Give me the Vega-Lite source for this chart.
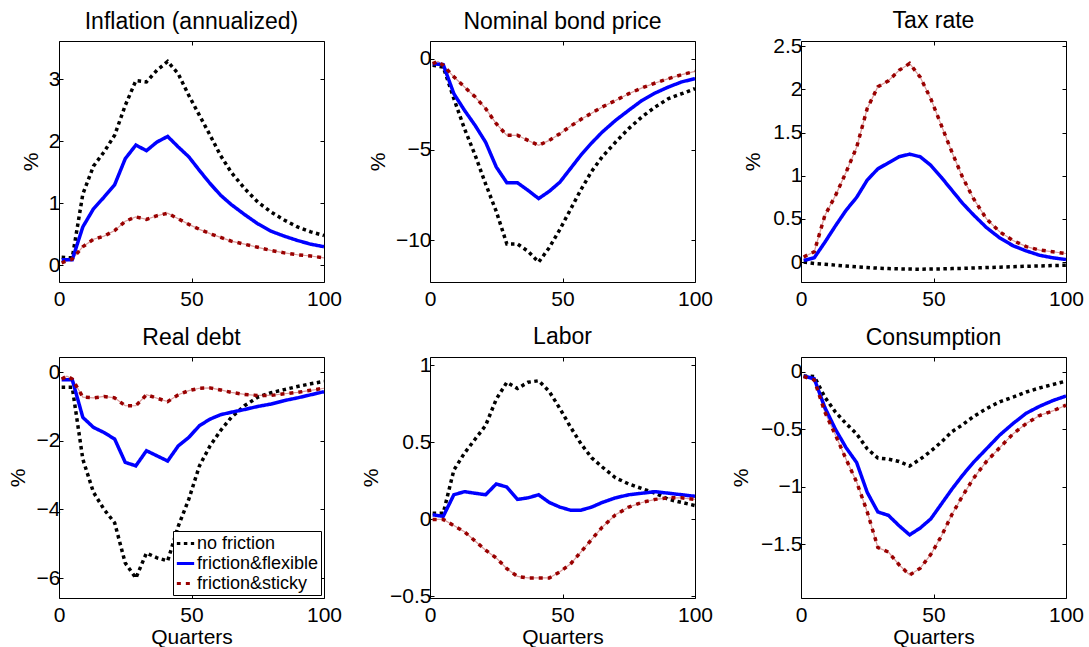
{
"$schema": "https://vega.github.io/schema/vega-lite/v6.json",
"padding": {"left": 6, "top": 9, "right": 0, "bottom": 0},
"bounds": "flush",
"columns": 3,
"spacing": {"row": 75, "column": 106},
"datasets": {"d": [
{"p":"inf","s":"nf","x":1,"y":0.13},{"p":"inf","s":"nf","x":5,"y":0.12},{"p":"inf","s":"nf","x":9,"y":1.15},{"p":"inf","s":"nf","x":13,"y":1.6},{"p":"inf","s":"nf","x":17,"y":1.83},{"p":"inf","s":"nf","x":21,"y":2.1},{"p":"inf","s":"nf","x":25,"y":2.58},{"p":"inf","s":"nf","x":29,"y":2.98},{"p":"inf","s":"nf","x":33,"y":2.96},{"p":"inf","s":"nf","x":37,"y":3.15},{"p":"inf","s":"nf","x":41,"y":3.29},{"p":"inf","s":"nf","x":45,"y":3.09},{"p":"inf","s":"nf","x":49,"y":2.74},{"p":"inf","s":"nf","x":53,"y":2.42},{"p":"inf","s":"nf","x":57,"y":2.1},{"p":"inf","s":"nf","x":61,"y":1.77},{"p":"inf","s":"nf","x":65,"y":1.5},{"p":"inf","s":"nf","x":70,"y":1.24},{"p":"inf","s":"nf","x":75,"y":1.02},{"p":"inf","s":"nf","x":80,"y":0.86},{"p":"inf","s":"nf","x":85,"y":0.73},{"p":"inf","s":"nf","x":90,"y":0.62},{"p":"inf","s":"nf","x":95,"y":0.54},{"p":"inf","s":"nf","x":100,"y":0.48},
{"p":"inf","s":"ff","x":1,"y":0.09},{"p":"inf","s":"ff","x":5,"y":0.09},{"p":"inf","s":"ff","x":9,"y":0.62},{"p":"inf","s":"ff","x":13,"y":0.91},{"p":"inf","s":"ff","x":17,"y":1.1},{"p":"inf","s":"ff","x":21,"y":1.3},{"p":"inf","s":"ff","x":25,"y":1.72},{"p":"inf","s":"ff","x":29,"y":1.94},{"p":"inf","s":"ff","x":33,"y":1.85},{"p":"inf","s":"ff","x":37,"y":1.99},{"p":"inf","s":"ff","x":41,"y":2.08},{"p":"inf","s":"ff","x":45,"y":1.91},{"p":"inf","s":"ff","x":49,"y":1.75},{"p":"inf","s":"ff","x":53,"y":1.53},{"p":"inf","s":"ff","x":57,"y":1.32},{"p":"inf","s":"ff","x":61,"y":1.13},{"p":"inf","s":"ff","x":65,"y":0.98},{"p":"inf","s":"ff","x":70,"y":0.82},{"p":"inf","s":"ff","x":75,"y":0.67},{"p":"inf","s":"ff","x":80,"y":0.55},{"p":"inf","s":"ff","x":85,"y":0.47},{"p":"inf","s":"ff","x":90,"y":0.4},{"p":"inf","s":"ff","x":95,"y":0.34},{"p":"inf","s":"ff","x":100,"y":0.3},
{"p":"inf","s":"fs","x":1,"y":0.04},{"p":"inf","s":"fs","x":5,"y":0.1},{"p":"inf","s":"fs","x":9,"y":0.3},{"p":"inf","s":"fs","x":13,"y":0.42},{"p":"inf","s":"fs","x":17,"y":0.47},{"p":"inf","s":"fs","x":21,"y":0.56},{"p":"inf","s":"fs","x":25,"y":0.71},{"p":"inf","s":"fs","x":29,"y":0.78},{"p":"inf","s":"fs","x":33,"y":0.74},{"p":"inf","s":"fs","x":37,"y":0.8},{"p":"inf","s":"fs","x":41,"y":0.84},{"p":"inf","s":"fs","x":45,"y":0.75},{"p":"inf","s":"fs","x":49,"y":0.66},{"p":"inf","s":"fs","x":53,"y":0.58},{"p":"inf","s":"fs","x":57,"y":0.51},{"p":"inf","s":"fs","x":61,"y":0.45},{"p":"inf","s":"fs","x":65,"y":0.39},{"p":"inf","s":"fs","x":70,"y":0.34},{"p":"inf","s":"fs","x":75,"y":0.29},{"p":"inf","s":"fs","x":80,"y":0.24},{"p":"inf","s":"fs","x":85,"y":0.2},{"p":"inf","s":"fs","x":90,"y":0.17},{"p":"inf","s":"fs","x":95,"y":0.15},{"p":"inf","s":"fs","x":100,"y":0.12},
{"p":"bond","s":"nf","x":1,"y":-0.37},{"p":"bond","s":"nf","x":5,"y":-0.46},{"p":"bond","s":"nf","x":9,"y":-2.2},{"p":"bond","s":"nf","x":13,"y":-3.85},{"p":"bond","s":"nf","x":17,"y":-5.3},{"p":"bond","s":"nf","x":21,"y":-6.9},{"p":"bond","s":"nf","x":25,"y":-8.4},{"p":"bond","s":"nf","x":29,"y":-10.2},{"p":"bond","s":"nf","x":33,"y":-10.2},{"p":"bond","s":"nf","x":37,"y":-10.6},{"p":"bond","s":"nf","x":41,"y":-11.2},{"p":"bond","s":"nf","x":45,"y":-10.4},{"p":"bond","s":"nf","x":49,"y":-9.4},{"p":"bond","s":"nf","x":53,"y":-8.3},{"p":"bond","s":"nf","x":57,"y":-7.2},{"p":"bond","s":"nf","x":61,"y":-6.2},{"p":"bond","s":"nf","x":65,"y":-5.4},{"p":"bond","s":"nf","x":70,"y":-4.6},{"p":"bond","s":"nf","x":75,"y":-3.85},{"p":"bond","s":"nf","x":80,"y":-3.2},{"p":"bond","s":"nf","x":85,"y":-2.66},{"p":"bond","s":"nf","x":90,"y":-2.2},{"p":"bond","s":"nf","x":95,"y":-1.93},{"p":"bond","s":"nf","x":100,"y":-1.65},
{"p":"bond","s":"ff","x":1,"y":-0.28},{"p":"bond","s":"ff","x":5,"y":-0.33},{"p":"bond","s":"ff","x":9,"y":-1.93},{"p":"bond","s":"ff","x":13,"y":-2.84},{"p":"bond","s":"ff","x":17,"y":-3.67},{"p":"bond","s":"ff","x":21,"y":-4.6},{"p":"bond","s":"ff","x":25,"y":-5.96},{"p":"bond","s":"ff","x":29,"y":-6.83},{"p":"bond","s":"ff","x":33,"y":-6.83},{"p":"bond","s":"ff","x":37,"y":-7.25},{"p":"bond","s":"ff","x":41,"y":-7.7},{"p":"bond","s":"ff","x":45,"y":-7.3},{"p":"bond","s":"ff","x":49,"y":-6.8},{"p":"bond","s":"ff","x":53,"y":-6.05},{"p":"bond","s":"ff","x":57,"y":-5.3},{"p":"bond","s":"ff","x":61,"y":-4.64},{"p":"bond","s":"ff","x":65,"y":-4.04},{"p":"bond","s":"ff","x":70,"y":-3.4},{"p":"bond","s":"ff","x":75,"y":-2.84},{"p":"bond","s":"ff","x":80,"y":-2.3},{"p":"bond","s":"ff","x":85,"y":-1.89},{"p":"bond","s":"ff","x":90,"y":-1.56},{"p":"bond","s":"ff","x":95,"y":-1.28},{"p":"bond","s":"ff","x":100,"y":-1.1},
{"p":"bond","s":"fs","x":1,"y":-0.28},{"p":"bond","s":"fs","x":3,"y":-0.15},{"p":"bond","s":"fs","x":5,"y":-0.37},{"p":"bond","s":"fs","x":9,"y":-1.0},{"p":"bond","s":"fs","x":13,"y":-1.56},{"p":"bond","s":"fs","x":17,"y":-2.1},{"p":"bond","s":"fs","x":21,"y":-2.75},{"p":"bond","s":"fs","x":25,"y":-3.58},{"p":"bond","s":"fs","x":29,"y":-4.22},{"p":"bond","s":"fs","x":33,"y":-4.22},{"p":"bond","s":"fs","x":37,"y":-4.5},{"p":"bond","s":"fs","x":41,"y":-4.77},{"p":"bond","s":"fs","x":45,"y":-4.5},{"p":"bond","s":"fs","x":49,"y":-4.13},{"p":"bond","s":"fs","x":53,"y":-3.72},{"p":"bond","s":"fs","x":57,"y":-3.34},{"p":"bond","s":"fs","x":61,"y":-3.0},{"p":"bond","s":"fs","x":65,"y":-2.66},{"p":"bond","s":"fs","x":70,"y":-2.3},{"p":"bond","s":"fs","x":75,"y":-1.93},{"p":"bond","s":"fs","x":80,"y":-1.61},{"p":"bond","s":"fs","x":85,"y":-1.34},{"p":"bond","s":"fs","x":90,"y":-1.1},{"p":"bond","s":"fs","x":95,"y":-0.88},{"p":"bond","s":"fs","x":100,"y":-0.7},
{"p":"tax","s":"nf","x":1,"y":0},{"p":"tax","s":"nf","x":5,"y":-0.015},{"p":"tax","s":"nf","x":9,"y":-0.025},{"p":"tax","s":"nf","x":13,"y":-0.035},{"p":"tax","s":"nf","x":17,"y":-0.045},{"p":"tax","s":"nf","x":21,"y":-0.055},{"p":"tax","s":"nf","x":25,"y":-0.062},{"p":"tax","s":"nf","x":29,"y":-0.07},{"p":"tax","s":"nf","x":33,"y":-0.075},{"p":"tax","s":"nf","x":37,"y":-0.078},{"p":"tax","s":"nf","x":41,"y":-0.08},{"p":"tax","s":"nf","x":45,"y":-0.082},{"p":"tax","s":"nf","x":49,"y":-0.08},{"p":"tax","s":"nf","x":53,"y":-0.078},{"p":"tax","s":"nf","x":57,"y":-0.075},{"p":"tax","s":"nf","x":61,"y":-0.072},{"p":"tax","s":"nf","x":65,"y":-0.068},{"p":"tax","s":"nf","x":70,"y":-0.063},{"p":"tax","s":"nf","x":75,"y":-0.058},{"p":"tax","s":"nf","x":80,"y":-0.053},{"p":"tax","s":"nf","x":85,"y":-0.048},{"p":"tax","s":"nf","x":90,"y":-0.044},{"p":"tax","s":"nf","x":95,"y":-0.04},{"p":"tax","s":"nf","x":100,"y":-0.036},
{"p":"tax","s":"ff","x":1,"y":0.02},{"p":"tax","s":"ff","x":5,"y":0.05},{"p":"tax","s":"ff","x":9,"y":0.23},{"p":"tax","s":"ff","x":13,"y":0.42},{"p":"tax","s":"ff","x":17,"y":0.6},{"p":"tax","s":"ff","x":21,"y":0.75},{"p":"tax","s":"ff","x":25,"y":0.95},{"p":"tax","s":"ff","x":29,"y":1.08},{"p":"tax","s":"ff","x":33,"y":1.15},{"p":"tax","s":"ff","x":37,"y":1.22},{"p":"tax","s":"ff","x":41,"y":1.25},{"p":"tax","s":"ff","x":45,"y":1.22},{"p":"tax","s":"ff","x":49,"y":1.12},{"p":"tax","s":"ff","x":53,"y":0.98},{"p":"tax","s":"ff","x":57,"y":0.83},{"p":"tax","s":"ff","x":61,"y":0.68},{"p":"tax","s":"ff","x":65,"y":0.55},{"p":"tax","s":"ff","x":70,"y":0.4},{"p":"tax","s":"ff","x":75,"y":0.28},{"p":"tax","s":"ff","x":80,"y":0.19},{"p":"tax","s":"ff","x":85,"y":0.13},{"p":"tax","s":"ff","x":90,"y":0.08},{"p":"tax","s":"ff","x":95,"y":0.05},{"p":"tax","s":"ff","x":100,"y":0.03},
{"p":"tax","s":"fs","x":1,"y":0.06},{"p":"tax","s":"fs","x":5,"y":0.12},{"p":"tax","s":"fs","x":9,"y":0.54},{"p":"tax","s":"fs","x":13,"y":0.77},{"p":"tax","s":"fs","x":17,"y":1.04},{"p":"tax","s":"fs","x":21,"y":1.33},{"p":"tax","s":"fs","x":25,"y":1.78},{"p":"tax","s":"fs","x":29,"y":2.03},{"p":"tax","s":"fs","x":33,"y":2.1},{"p":"tax","s":"fs","x":37,"y":2.22},{"p":"tax","s":"fs","x":41,"y":2.3},{"p":"tax","s":"fs","x":45,"y":2.14},{"p":"tax","s":"fs","x":49,"y":1.89},{"p":"tax","s":"fs","x":53,"y":1.58},{"p":"tax","s":"fs","x":57,"y":1.27},{"p":"tax","s":"fs","x":61,"y":0.98},{"p":"tax","s":"fs","x":65,"y":0.74},{"p":"tax","s":"fs","x":70,"y":0.5},{"p":"tax","s":"fs","x":75,"y":0.35},{"p":"tax","s":"fs","x":80,"y":0.25},{"p":"tax","s":"fs","x":85,"y":0.18},{"p":"tax","s":"fs","x":90,"y":0.14},{"p":"tax","s":"fs","x":95,"y":0.12},{"p":"tax","s":"fs","x":100,"y":0.1},
{"p":"debt","s":"nf","x":1,"y":-0.44},{"p":"debt","s":"nf","x":5,"y":-0.44},{"p":"debt","s":"nf","x":9,"y":-2.54},{"p":"debt","s":"nf","x":13,"y":-3.5},{"p":"debt","s":"nf","x":17,"y":-4.0},{"p":"debt","s":"nf","x":21,"y":-4.39},{"p":"debt","s":"nf","x":25,"y":-5.56},{"p":"debt","s":"nf","x":29,"y":-6.0},{"p":"debt","s":"nf","x":33,"y":-5.27},{"p":"debt","s":"nf","x":37,"y":-5.41},{"p":"debt","s":"nf","x":41,"y":-5.5},{"p":"debt","s":"nf","x":45,"y":-4.49},{"p":"debt","s":"nf","x":49,"y":-3.7},{"p":"debt","s":"nf","x":53,"y":-2.73},{"p":"debt","s":"nf","x":57,"y":-2.15},{"p":"debt","s":"nf","x":61,"y":-1.7},{"p":"debt","s":"nf","x":65,"y":-1.32},{"p":"debt","s":"nf","x":70,"y":-0.98},{"p":"debt","s":"nf","x":75,"y":-0.73},{"p":"debt","s":"nf","x":80,"y":-0.6},{"p":"debt","s":"nf","x":85,"y":-0.51},{"p":"debt","s":"nf","x":90,"y":-0.42},{"p":"debt","s":"nf","x":95,"y":-0.34},{"p":"debt","s":"nf","x":100,"y":-0.27},
{"p":"debt","s":"ff","x":1,"y":-0.22},{"p":"debt","s":"ff","x":5,"y":-0.22},{"p":"debt","s":"ff","x":9,"y":-1.32},{"p":"debt","s":"ff","x":13,"y":-1.61},{"p":"debt","s":"ff","x":17,"y":-1.76},{"p":"debt","s":"ff","x":21,"y":-1.95},{"p":"debt","s":"ff","x":25,"y":-2.63},{"p":"debt","s":"ff","x":29,"y":-2.73},{"p":"debt","s":"ff","x":33,"y":-2.29},{"p":"debt","s":"ff","x":37,"y":-2.44},{"p":"debt","s":"ff","x":41,"y":-2.59},{"p":"debt","s":"ff","x":45,"y":-2.15},{"p":"debt","s":"ff","x":49,"y":-1.9},{"p":"debt","s":"ff","x":53,"y":-1.56},{"p":"debt","s":"ff","x":57,"y":-1.37},{"p":"debt","s":"ff","x":61,"y":-1.24},{"p":"debt","s":"ff","x":65,"y":-1.17},{"p":"debt","s":"ff","x":70,"y":-1.09},{"p":"debt","s":"ff","x":75,"y":-1.0},{"p":"debt","s":"ff","x":80,"y":-0.93},{"p":"debt","s":"ff","x":85,"y":-0.83},{"p":"debt","s":"ff","x":90,"y":-0.75},{"p":"debt","s":"ff","x":95,"y":-0.66},{"p":"debt","s":"ff","x":100,"y":-0.57},
{"p":"debt","s":"fs","x":1,"y":-0.2},{"p":"debt","s":"fs","x":3,"y":-0.12},{"p":"debt","s":"fs","x":5,"y":-0.2},{"p":"debt","s":"fs","x":9,"y":-0.73},{"p":"debt","s":"fs","x":13,"y":-0.75},{"p":"debt","s":"fs","x":17,"y":-0.71},{"p":"debt","s":"fs","x":21,"y":-0.75},{"p":"debt","s":"fs","x":25,"y":-0.98},{"p":"debt","s":"fs","x":29,"y":-0.98},{"p":"debt","s":"fs","x":33,"y":-0.66},{"p":"debt","s":"fs","x":37,"y":-0.76},{"p":"debt","s":"fs","x":41,"y":-0.86},{"p":"debt","s":"fs","x":45,"y":-0.66},{"p":"debt","s":"fs","x":49,"y":-0.54},{"p":"debt","s":"fs","x":53,"y":-0.47},{"p":"debt","s":"fs","x":57,"y":-0.46},{"p":"debt","s":"fs","x":61,"y":-0.52},{"p":"debt","s":"fs","x":65,"y":-0.59},{"p":"debt","s":"fs","x":70,"y":-0.65},{"p":"debt","s":"fs","x":75,"y":-0.68},{"p":"debt","s":"fs","x":80,"y":-0.68},{"p":"debt","s":"fs","x":85,"y":-0.63},{"p":"debt","s":"fs","x":90,"y":-0.59},{"p":"debt","s":"fs","x":95,"y":-0.53},{"p":"debt","s":"fs","x":100,"y":-0.47},
{"p":"lab","s":"nf","x":1,"y":0.04},{"p":"lab","s":"nf","x":5,"y":0.04},{"p":"lab","s":"nf","x":9,"y":0.32},{"p":"lab","s":"nf","x":13,"y":0.43},{"p":"lab","s":"nf","x":17,"y":0.52},{"p":"lab","s":"nf","x":21,"y":0.61},{"p":"lab","s":"nf","x":25,"y":0.78},{"p":"lab","s":"nf","x":29,"y":0.89},{"p":"lab","s":"nf","x":33,"y":0.85},{"p":"lab","s":"nf","x":37,"y":0.89},{"p":"lab","s":"nf","x":41,"y":0.9},{"p":"lab","s":"nf","x":45,"y":0.83},{"p":"lab","s":"nf","x":49,"y":0.72},{"p":"lab","s":"nf","x":53,"y":0.6},{"p":"lab","s":"nf","x":57,"y":0.49},{"p":"lab","s":"nf","x":61,"y":0.4},{"p":"lab","s":"nf","x":65,"y":0.34},{"p":"lab","s":"nf","x":70,"y":0.27},{"p":"lab","s":"nf","x":75,"y":0.23},{"p":"lab","s":"nf","x":80,"y":0.2},{"p":"lab","s":"nf","x":85,"y":0.17},{"p":"lab","s":"nf","x":90,"y":0.13},{"p":"lab","s":"nf","x":95,"y":0.11},{"p":"lab","s":"nf","x":100,"y":0.09},
{"p":"lab","s":"ff","x":1,"y":0.03},{"p":"lab","s":"ff","x":5,"y":0.02},{"p":"lab","s":"ff","x":9,"y":0.16},{"p":"lab","s":"ff","x":13,"y":0.18},{"p":"lab","s":"ff","x":17,"y":0.17},{"p":"lab","s":"ff","x":21,"y":0.16},{"p":"lab","s":"ff","x":25,"y":0.23},{"p":"lab","s":"ff","x":29,"y":0.21},{"p":"lab","s":"ff","x":33,"y":0.13},{"p":"lab","s":"ff","x":37,"y":0.14},{"p":"lab","s":"ff","x":41,"y":0.16},{"p":"lab","s":"ff","x":45,"y":0.11},{"p":"lab","s":"ff","x":49,"y":0.08},{"p":"lab","s":"ff","x":53,"y":0.06},{"p":"lab","s":"ff","x":57,"y":0.06},{"p":"lab","s":"ff","x":61,"y":0.08},{"p":"lab","s":"ff","x":65,"y":0.11},{"p":"lab","s":"ff","x":70,"y":0.14},{"p":"lab","s":"ff","x":75,"y":0.16},{"p":"lab","s":"ff","x":80,"y":0.17},{"p":"lab","s":"ff","x":85,"y":0.18},{"p":"lab","s":"ff","x":90,"y":0.17},{"p":"lab","s":"ff","x":95,"y":0.16},{"p":"lab","s":"ff","x":100,"y":0.15},
{"p":"lab","s":"fs","x":1,"y":0},{"p":"lab","s":"fs","x":5,"y":0},{"p":"lab","s":"fs","x":9,"y":-0.04},{"p":"lab","s":"fs","x":13,"y":-0.08},{"p":"lab","s":"fs","x":17,"y":-0.14},{"p":"lab","s":"fs","x":21,"y":-0.2},{"p":"lab","s":"fs","x":25,"y":-0.25},{"p":"lab","s":"fs","x":29,"y":-0.32},{"p":"lab","s":"fs","x":33,"y":-0.37},{"p":"lab","s":"fs","x":37,"y":-0.38},{"p":"lab","s":"fs","x":41,"y":-0.38},{"p":"lab","s":"fs","x":45,"y":-0.38},{"p":"lab","s":"fs","x":49,"y":-0.34},{"p":"lab","s":"fs","x":53,"y":-0.29},{"p":"lab","s":"fs","x":57,"y":-0.21},{"p":"lab","s":"fs","x":61,"y":-0.13},{"p":"lab","s":"fs","x":65,"y":-0.05},{"p":"lab","s":"fs","x":70,"y":0.03},{"p":"lab","s":"fs","x":75,"y":0.08},{"p":"lab","s":"fs","x":80,"y":0.11},{"p":"lab","s":"fs","x":85,"y":0.13},{"p":"lab","s":"fs","x":90,"y":0.14},{"p":"lab","s":"fs","x":95,"y":0.14},{"p":"lab","s":"fs","x":100,"y":0.13},
{"p":"cons","s":"nf","x":1,"y":-0.035},{"p":"cons","s":"nf","x":5,"y":-0.04},{"p":"cons","s":"nf","x":9,"y":-0.22},{"p":"cons","s":"nf","x":13,"y":-0.35},{"p":"cons","s":"nf","x":17,"y":-0.45},{"p":"cons","s":"nf","x":21,"y":-0.54},{"p":"cons","s":"nf","x":25,"y":-0.67},{"p":"cons","s":"nf","x":29,"y":-0.75},{"p":"cons","s":"nf","x":33,"y":-0.76},{"p":"cons","s":"nf","x":37,"y":-0.78},{"p":"cons","s":"nf","x":41,"y":-0.82},{"p":"cons","s":"nf","x":45,"y":-0.76},{"p":"cons","s":"nf","x":49,"y":-0.69},{"p":"cons","s":"nf","x":53,"y":-0.61},{"p":"cons","s":"nf","x":57,"y":-0.52},{"p":"cons","s":"nf","x":61,"y":-0.46},{"p":"cons","s":"nf","x":65,"y":-0.39},{"p":"cons","s":"nf","x":70,"y":-0.32},{"p":"cons","s":"nf","x":75,"y":-0.26},{"p":"cons","s":"nf","x":80,"y":-0.22},{"p":"cons","s":"nf","x":85,"y":-0.175},{"p":"cons","s":"nf","x":90,"y":-0.14},{"p":"cons","s":"nf","x":95,"y":-0.11},{"p":"cons","s":"nf","x":100,"y":-0.08},
{"p":"cons","s":"ff","x":1,"y":-0.035},{"p":"cons","s":"ff","x":5,"y":-0.06},{"p":"cons","s":"ff","x":9,"y":-0.31},{"p":"cons","s":"ff","x":13,"y":-0.5},{"p":"cons","s":"ff","x":17,"y":-0.66},{"p":"cons","s":"ff","x":21,"y":-0.79},{"p":"cons","s":"ff","x":25,"y":-1.05},{"p":"cons","s":"ff","x":29,"y":-1.22},{"p":"cons","s":"ff","x":33,"y":-1.25},{"p":"cons","s":"ff","x":37,"y":-1.34},{"p":"cons","s":"ff","x":41,"y":-1.42},{"p":"cons","s":"ff","x":45,"y":-1.36},{"p":"cons","s":"ff","x":49,"y":-1.28},{"p":"cons","s":"ff","x":53,"y":-1.15},{"p":"cons","s":"ff","x":57,"y":-1.02},{"p":"cons","s":"ff","x":61,"y":-0.9},{"p":"cons","s":"ff","x":65,"y":-0.79},{"p":"cons","s":"ff","x":70,"y":-0.67},{"p":"cons","s":"ff","x":75,"y":-0.55},{"p":"cons","s":"ff","x":80,"y":-0.45},{"p":"cons","s":"ff","x":85,"y":-0.36},{"p":"cons","s":"ff","x":90,"y":-0.3},{"p":"cons","s":"ff","x":95,"y":-0.25},{"p":"cons","s":"ff","x":100,"y":-0.21},
{"p":"cons","s":"fs","x":1,"y":-0.04},{"p":"cons","s":"fs","x":5,"y":-0.07},{"p":"cons","s":"fs","x":9,"y":-0.35},{"p":"cons","s":"fs","x":13,"y":-0.55},{"p":"cons","s":"fs","x":17,"y":-0.76},{"p":"cons","s":"fs","x":21,"y":-0.96},{"p":"cons","s":"fs","x":25,"y":-1.22},{"p":"cons","s":"fs","x":29,"y":-1.53},{"p":"cons","s":"fs","x":33,"y":-1.57},{"p":"cons","s":"fs","x":37,"y":-1.68},{"p":"cons","s":"fs","x":41,"y":-1.77},{"p":"cons","s":"fs","x":45,"y":-1.71},{"p":"cons","s":"fs","x":49,"y":-1.59},{"p":"cons","s":"fs","x":53,"y":-1.43},{"p":"cons","s":"fs","x":57,"y":-1.24},{"p":"cons","s":"fs","x":61,"y":-1.08},{"p":"cons","s":"fs","x":65,"y":-0.93},{"p":"cons","s":"fs","x":70,"y":-0.78},{"p":"cons","s":"fs","x":75,"y":-0.66},{"p":"cons","s":"fs","x":80,"y":-0.54},{"p":"cons","s":"fs","x":85,"y":-0.45},{"p":"cons","s":"fs","x":90,"y":-0.38},{"p":"cons","s":"fs","x":95,"y":-0.34},{"p":"cons","s":"fs","x":100,"y":-0.29}
]},
"concat": [
{"title": {"text": "Inflation (annualized)", "offset": 7}, "width": 265, "height": 241, "data": {"name": "d"}, "transform": [{"filter": "datum.p == 'inf'"}],
 "layer": [
  {"transform": [{"filter": "datum.s == 'fs'"}], "mark": {"type": "line", "color": "#d99a9a", "strokeWidth": 1.2},
   "encoding": {"x": {"field": "x", "type": "quantitative", "scale": {"domain": [0, 100], "nice": false, "zero": false}, "axis": {"orient": "top", "labels": false, "title": null, "values": [0, 50, 100]}},
                "y": {"field": "y", "type": "quantitative", "scale": {"domain": [-0.27, 3.62], "nice": false, "zero": false}, "axis": {"orient": "right", "labels": false, "title": null, "values": [0, 1, 2, 3]}}}},
  {"mark": {"type": "line", "strokeWidth": 3.5},
   "encoding": {"x": {"field": "x", "type": "quantitative", "scale": {"domain": [0, 100], "nice": false, "zero": false}, "axis": {"values": [0, 50, 100], "title": null, "format": "~r"}},
                "y": {"field": "y", "type": "quantitative", "scale": {"domain": [-0.27, 3.62], "nice": false, "zero": false}, "axis": {"values": [0, 1, 2, 3], "format": "~r", "title": "%", "titleX": -22}},
                "color": {"field": "s", "type": "nominal", "scale": {"domain": ["nf", "ff", "fs"], "range": ["#000000", "#0000ff", "#990000"]}, "legend": null},
                "strokeDash": {"field": "s", "type": "nominal", "scale": {"domain": ["nf", "ff", "fs"], "range": [[3.5, 3.5], [1, 0], [4, 5]]}, "legend": null}}}
 ],
 "resolve": {"axis": {"x": "independent", "y": "independent"}}},
{"title": {"text": "Nominal bond price", "offset": 7}, "width": 265, "height": 241, "data": {"name": "d"}, "transform": [{"filter": "datum.p == 'bond'"}],
 "layer": [
  {"transform": [{"filter": "datum.s == 'fs'"}], "mark": {"type": "line", "color": "#d99a9a", "strokeWidth": 1.2},
   "encoding": {"x": {"field": "x", "type": "quantitative", "scale": {"domain": [0, 100], "nice": false, "zero": false}, "axis": {"orient": "top", "labels": false, "title": null, "values": [0, 50, 100]}},
                "y": {"field": "y", "type": "quantitative", "scale": {"domain": [-12.29, 0.97], "nice": false, "zero": false}, "axis": {"orient": "right", "labels": false, "title": null, "values": [-10, -5, 0]}}}},
  {"mark": {"type": "line", "strokeWidth": 3.5},
   "encoding": {"x": {"field": "x", "type": "quantitative", "scale": {"domain": [0, 100], "nice": false, "zero": false}, "axis": {"values": [0, 50, 100], "title": null, "format": "~r"}},
                "y": {"field": "y", "type": "quantitative", "scale": {"domain": [-12.29, 0.97], "nice": false, "zero": false}, "axis": {"values": [-10, -5, 0], "format": "~r", "title": "%", "titleX": -46}},
                "color": {"field": "s", "type": "nominal", "scale": {"domain": ["nf", "ff", "fs"], "range": ["#000000", "#0000ff", "#990000"]}, "legend": null},
                "strokeDash": {"field": "s", "type": "nominal", "scale": {"domain": ["nf", "ff", "fs"], "range": [[3.5, 3.5], [1, 0], [4, 5]]}, "legend": null}}}
 ],
 "resolve": {"axis": {"x": "independent", "y": "independent"}}},
{"title": {"text": "Tax rate", "offset": 2}, "width": 265, "height": 241, "data": {"name": "d"}, "transform": [{"filter": "datum.p == 'tax'"}],
 "layer": [
  {"transform": [{"filter": "datum.s == 'fs'"}], "mark": {"type": "line", "color": "#d99a9a", "strokeWidth": 1.2},
   "encoding": {"x": {"field": "x", "type": "quantitative", "scale": {"domain": [0, 100], "nice": false, "zero": false}, "axis": {"orient": "top", "labels": false, "title": null, "values": [0, 50, 100]}},
                "y": {"field": "y", "type": "quantitative", "scale": {"domain": [-0.23, 2.56], "nice": false, "zero": false}, "axis": {"orient": "right", "labels": false, "title": null, "values": [0, 0.5, 1, 1.5, 2, 2.5]}}}},
  {"mark": {"type": "line", "strokeWidth": 3.5},
   "encoding": {"x": {"field": "x", "type": "quantitative", "scale": {"domain": [0, 100], "nice": false, "zero": false}, "axis": {"values": [0, 50, 100], "title": null, "format": "~r"}},
                "y": {"field": "y", "type": "quantitative", "scale": {"domain": [-0.23, 2.56], "nice": false, "zero": false}, "axis": {"values": [0, 0.5, 1, 1.5, 2, 2.5], "format": "~r", "title": "%", "titleX": -42}},
                "color": {"field": "s", "type": "nominal", "scale": {"domain": ["nf", "ff", "fs"], "range": ["#000000", "#0000ff", "#990000"]}, "legend": null},
                "strokeDash": {"field": "s", "type": "nominal", "scale": {"domain": ["nf", "ff", "fs"], "range": [[3.5, 3.5], [1, 0], [4, 5]]}, "legend": null}}}
 ],
 "resolve": {"axis": {"x": "independent", "y": "independent"}}},
{"title": {"text": "Real debt", "offset": 7}, "width": 265, "height": 241, "data": {"name": "d"}, "transform": [{"filter": "datum.p == 'debt'"}],
 "layer": [
  {"transform": [{"filter": "datum.s == 'fs'"}], "mark": {"type": "line", "color": "#d99a9a", "strokeWidth": 1.2},
   "encoding": {"x": {"field": "x", "type": "quantitative", "scale": {"domain": [0, 100], "nice": false, "zero": false}, "axis": {"orient": "top", "labels": false, "title": null, "values": [0, 50, 100]}},
                "y": {"field": "y", "type": "quantitative", "scale": {"domain": [-6.58, 0.44], "nice": false, "zero": false}, "axis": {"orient": "right", "labels": false, "title": null, "values": [-6, -4, -2, 0]}}}},
  {"mark": {"type": "line", "strokeWidth": 3.5},
   "encoding": {"x": {"field": "x", "type": "quantitative", "scale": {"domain": [0, 100], "nice": false, "zero": false}, "axis": {"values": [0, 50, 100], "title": "Quarters", "format": "~r"}},
                "y": {"field": "y", "type": "quantitative", "scale": {"domain": [-6.58, 0.44], "nice": false, "zero": false}, "axis": {"values": [-6, -4, -2, 0], "format": "~r", "title": "%", "titleX": -35}},
                "color": {"field": "s", "type": "nominal", "scale": {"domain": ["nf", "ff", "fs"], "range": ["#000000", "#0000ff", "#990000"]}, "legend": {"title": null, "orient": "bottom-right", "labelExpr": "datum.label == 'nf' ? 'no friction' : datum.label == 'ff' ? 'friction&flexible' : 'friction&sticky'"}},
                "strokeDash": {"field": "s", "type": "nominal", "scale": {"domain": ["nf", "ff", "fs"], "range": [[3.5, 3.5], [1, 0], [4, 5]]}, "legend": {"title": null, "orient": "bottom-right", "labelExpr": "datum.label == 'nf' ? 'no friction' : datum.label == 'ff' ? 'friction&flexible' : 'friction&sticky'"}}}}
 ],
 "resolve": {"axis": {"x": "independent", "y": "independent"}}},
{"title": {"text": "Labor", "offset": 5}, "width": 265, "height": 241, "data": {"name": "d"}, "transform": [{"filter": "datum.p == 'lab'"}],
 "layer": [
  {"transform": [{"filter": "datum.s == 'fs'"}], "mark": {"type": "line", "color": "#d99a9a", "strokeWidth": 1.2},
   "encoding": {"x": {"field": "x", "type": "quantitative", "scale": {"domain": [0, 100], "nice": false, "zero": false}, "axis": {"orient": "top", "labels": false, "title": null, "values": [0, 50, 100]}},
                "y": {"field": "y", "type": "quantitative", "scale": {"domain": [-0.51, 1.054], "nice": false, "zero": false}, "axis": {"orient": "right", "labels": false, "title": null, "values": [-0.5, 0, 0.5, 1]}}}},
  {"mark": {"type": "line", "strokeWidth": 3.5},
   "encoding": {"x": {"field": "x", "type": "quantitative", "scale": {"domain": [0, 100], "nice": false, "zero": false}, "axis": {"values": [0, 50, 100], "title": "Quarters", "format": "~r"}},
                "y": {"field": "y", "type": "quantitative", "scale": {"domain": [-0.51, 1.054], "nice": false, "zero": false}, "axis": {"values": [-0.5, 0, 0.5, 1], "format": "~r", "title": "%", "titleX": -53}},
                "color": {"field": "s", "type": "nominal", "scale": {"domain": ["nf", "ff", "fs"], "range": ["#000000", "#0000ff", "#990000"]}, "legend": null},
                "strokeDash": {"field": "s", "type": "nominal", "scale": {"domain": ["nf", "ff", "fs"], "range": [[3.5, 3.5], [1, 0], [4, 5]]}, "legend": null}}}
 ],
 "resolve": {"axis": {"x": "independent", "y": "independent"}}},
{"title": {"text": "Consumption", "offset": 7}, "width": 265, "height": 241, "data": {"name": "d"}, "transform": [{"filter": "datum.p == 'cons'"}],
 "layer": [
  {"transform": [{"filter": "datum.s == 'fs'"}], "mark": {"type": "line", "color": "#d99a9a", "strokeWidth": 1.2},
   "encoding": {"x": {"field": "x", "type": "quantitative", "scale": {"domain": [0, 100], "nice": false, "zero": false}, "axis": {"orient": "top", "labels": false, "title": null, "values": [0, 50, 100]}},
                "y": {"field": "y", "type": "quantitative", "scale": {"domain": [-1.97, 0.13], "nice": false, "zero": false}, "axis": {"orient": "right", "labels": false, "title": null, "values": [-1.5, -1, -0.5, 0]}}}},
  {"mark": {"type": "line", "strokeWidth": 3.5},
   "encoding": {"x": {"field": "x", "type": "quantitative", "scale": {"domain": [0, 100], "nice": false, "zero": false}, "axis": {"values": [0, 50, 100], "title": "Quarters", "format": "~r"}},
                "y": {"field": "y", "type": "quantitative", "scale": {"domain": [-1.97, 0.13], "nice": false, "zero": false}, "axis": {"values": [-1.5, -1, -0.5, 0], "format": "~r", "title": "%", "titleX": -54}},
                "color": {"field": "s", "type": "nominal", "scale": {"domain": ["nf", "ff", "fs"], "range": ["#000000", "#0000ff", "#990000"]}, "legend": null},
                "strokeDash": {"field": "s", "type": "nominal", "scale": {"domain": ["nf", "ff", "fs"], "range": [[3.5, 3.5], [1, 0], [4, 5]]}, "legend": null}}}
 ],
 "resolve": {"axis": {"x": "independent", "y": "independent"}}}
],
"resolve": {"legend": {"color": "independent", "strokeDash": "independent"}},
"config": {
 "font": "Liberation Sans",
 "background": "white",
 "view": {"stroke": "black", "strokeWidth": 1},
 "title": {"fontSize": 23, "fontWeight": "normal", "font": "Liberation Sans", "color": "black", "frame": "group", "anchor": "middle", "baseline": "alphabetic"},
 "axis": {"labelFont": "Liberation Sans", "labelFontSize": 21, "labelColor": "black", "titleFont": "Liberation Sans", "titleFontSize": 21, "titleFontWeight": "normal", "titleColor": "black", "tickColor": "black", "tickSize": -4, "tickWidth": 1, "domain": false, "grid": false, "labelFlush": false, "labelOverlap": false, "labelBound": false},
 "axisX": {"labelPadding": 10, "titleY": 45, "titleBaseline": "alphabetic"},
 "axisY": {"labelPadding": 3, "titleBaseline": "alphabetic"},
 "legend": {"symbolType": "stroke", "symbolSize": 300, "symbolStrokeWidth": 3, "labelFontSize": 18, "labelFont": "Liberation Sans", "labelColor": "black", "strokeColor": "black", "fillColor": "white", "padding": 2, "offset": 3, "rowPadding": 0, "labelOffset": 1, "symbolOffset": 0, "cornerRadius": 0, "labelLimit": 300},
 "line": {"strokeCap": "butt"}
}
}
